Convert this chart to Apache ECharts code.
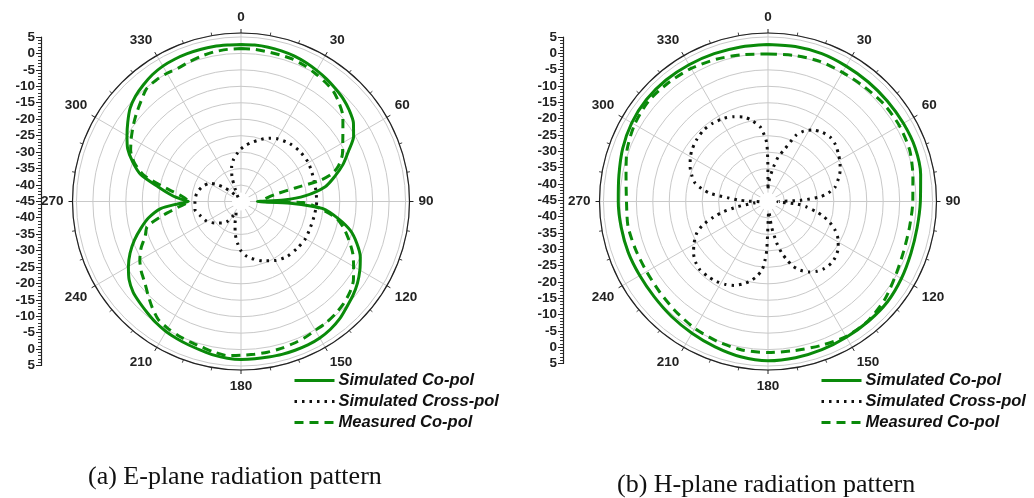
<!DOCTYPE html>
<html>
<head>
<meta charset="utf-8">
<script src="https://cdn.jsdelivr.net/npm/echarts@6/dist/echarts.min.js"></script>
<style>
html,body{margin:0;padding:0;background:#fff;}
#chart{width:1034px;height:498px;}
</style>
</head>
<body>
<div id="chart"></div>
<script>
// ---------- tick labels ----------
const angleTickLabels = ['0','30','60','90','120','150','180','210','240','270','300','330'];
const dbTickLabels = ['5','0','-5','-10','-15','-20','-25','-30','-35','-40','-45','-40','-35','-30','-25','-20','-15','-10','-5','0','5'];
const seriesNames = ['Simulated Co-pol','Simulated Cross-pol','Measured Co-pol'];
const captions = ['(a) E-plane radiation pattern','(b) H-plane radiation pattern'];

// ---------- E-plane ----------
const eSimCoAng = [0,5,10,15,20,25,30,35,40,45,50,55,60,65,70,75,80,85,88,90,92,95,100,105,110,115,120,125,130,135,140,145,150,155,160,165,170,175,180,185,190,195,200,205,210,215,220,225,230,235,240,245,250,255,260,265,268,270,272,275,280,285,290,295,300,305,310,315,320,325,330,335,340,345,350,355,360];
const eSimCo    = [2.7,2.7,2.6,2.4,2.1,1.6,1.0,0.4,-0.3,-1.0,-2.0,-3.3,-5.5,-9,-12,-15.5,-19,-25.5,-32,-40,-30,-20,-15,-10.5,-7.5,-5,-3.3,-1.8,-0.6,0.4,1.6,2.4,2.9,3.1,3.1,3.1,3.0,3.0,3.0,2.8,2.4,1.8,1.4,1.0,0.6,0,-0.8,-1.5,-2.2,-3.5,-5.5,-7.8,-10.5,-13.5,-16.5,-20.5,-26,-29,-27,-24,-19.5,-13.5,-10,-7,-5,-3,-1,0.3,1.2,2.0,2.5,2.7,2.8,2.8,2.8,2.7,2.7];

const eMeasCoAng = [0,5,10,15,20,25,30,35,40,45,50,55,60,65,70,73,75,76,78,82,86,90,91,95,100,105,110,115,120,125,130,135,140,145,150,155,160,165,170,175,180,185,190,195,200,205,210,215,220,225,230,235,240,245,250,255,260,265,270,275,280,285,290,295,300,305,310,315,320,325,330,335,340,345,350,355,360];
const eMeasCo    = [1.5,1.4,1.2,1.1,1.0,0.6,0,-0.6,-1.3,-2.8,-4.6,-7.2,-9.3,-11,-13.5,-16,-20,-28,-34,-37,-38,-38,-26,-21,-15.5,-12.5,-10,-7.5,-5.5,-3.3,-1.9,-1.0,-0.4,0,0.2,0.7,1.0,1.3,1.5,1.6,1.7,2.0,1.5,0.8,0.4,0,-0.5,-1.2,-3.0,-5,-6.8,-8,-9.5,-11.5,-14,-15.5,-21,-26,-29,-27,-22,-14.5,-10.5,-8,-6.5,-5,-3.5,-2,-0.3,0,0,-0.2,0.3,0.8,1.2,1.4,1.5];

const eSimXAng = [0,5,10,15,20,25,30,40,50,60,70,80,90,100,110,120,130,140,150,160,170,175,180,185,190,195,200,205,210,215,220,230,240,250,260,270,280,290,300,305,310,315,320,325,330,335,340,345,350,355,360];
const eSimX    = [-29,-27.8,-26.8,-25.8,-24.7,-23.8,-23,-22,-21.5,-21.4,-21.8,-22,-22,-22.3,-22.5,-22.4,-22.8,-23.2,-24.3,-25.8,-27.5,-28.5,-30,-32.4,-35,-38,-40.5,-41.5,-39.5,-37.5,-36.5,-34.8,-33,-32,-30.8,-31,-31.3,-32.3,-34,-36,-38.5,-41,-43,-43.5,-42.5,-40.8,-37,-34,-32,-30.5,-29];

// ---------- H-plane ----------
const hAng = [0,10,20,30,40,50,60,70,80,90,100,110,120,130,140,150,160,170,180,190,200,210,220,230,240,250,260,270,280,290,300,310,320,330,340,350,360];
const hSimCo  = [2.7,2.8,2.8,2.5,2.4,2.4,2.5,2.6,2.1,1.3,1.0,1.2,1.8,2.4,2.5,2.6,2.9,3.2,3.4,2.9,2.0,1.2,0.6,0.1,0,0.2,0.3,0.5,1.0,2.0,2.8,3.2,3.2,3.0,2.8,2.7,2.7];
const hMeasCo = [-0.2,0.1,0.4,0.3,0.5,1.0,1.1,0.8,-0.3,-1.0,-1.3,-1.1,-0.2,1.3,2.3,2.4,1.6,1.0,0.9,0.8,0.2,-0.5,-1.4,-2.1,-2.4,-2.2,-1.8,-2.0,-1.2,0.6,1.8,2.4,2.1,1.7,1.0,0.3,-0.2];

const hSimXAng = [0,4,9,13,17,23,27,32,38,44,50,56,62,67,72,78,82,85,88,91,95,98,102,105,109,113,119,125,130,134,140,145,150,155,159,162,165,168,172,176,179,181.5,183,185,189,193,197,202,207,213,219,225,230,235,240,246,250,254,257,260,264,268,271,273,275,278,281,284,289,294,299,304,311,318,325,332,338,344,349,354,356,358,359,359.7,360];
const hSimX    = [-41,-38,-34.4,-31,-28.8,-23.1,-21,-19.4,-18.3,-17.8,-18.2,-19.2,-20.2,-21.2,-22.5,-24.2,-26.5,-29.2,-35.3,-42,-36,-33.2,-30,-27.6,-25,-22.9,-20.6,-19.1,-18.4,-18.1,-18.4,-19.1,-20.3,-22,-24,-26.3,-28.8,-32,-37.2,-42,-40,-30.2,-27,-24.1,-21.8,-20.1,-18.8,-17.5,-16.7,-16.1,-15.8,-15.7,-16.3,-17.4,-19,-21.3,-23.8,-27.8,-31,-35.4,-40.5,-42.5,-39,-36,-33.2,-27.3,-24.5,-22.2,-20.5,-19.1,-18,-17.1,-16.3,-15.8,-15.9,-16.4,-17.2,-18.3,-20,-22.2,-24,-26,-28,-33,-41];

// ---------- helpers ----------
function pairs(ang, val){ return ang.map((a,i)=>[val[i], a]); }

const GREEN = '#0a8a0a';
const R_MIN = -45, R_MAX = 6.2;
const centers = [[241,201.5],[768,201.5]];
const outerR = 168.5;

const polar = centers.map(c => ({center: c, radius: [0, outerR]}));

const angleAxis = [0,1].map(i => ({
  polarIndex: i, type: 'value', min: 0, max: 360, interval: 30,
  startAngle: 90, clockwise: true,
  axisLine: {lineStyle: {color: '#222', width: 1.2}},
  axisTick: {show: true, length: 4, lineStyle: {color: '#222'}},
  minorTick: {show: true, splitNumber: 3, length: 3, lineStyle: {color: '#444'}},
  axisLabel: {
    margin: 9, color: '#222', fontSize: 13.5, fontWeight: 'bold', fontFamily: 'Liberation Sans',
    formatter: v => (v >= 360 ? '' : angleTickLabels[Math.round(v/30)])
  },
  splitLine: {show: true, lineStyle: {color: '#c9c9c9', width: 1}}
}));

const radiusAxis = [0,1].map(i => ({
  polarIndex: i, type: 'value', min: R_MIN, max: R_MAX, interval: 5,
  axisLine: {show: false}, axisTick: {show: false}, axisLabel: {show: false},
  splitLine: {show: true, lineStyle: {color: '#c9c9c9', width: 1}}
}));

const grid = [
  {left: 41, top: 37, width: 1, height: 328.5},
  {left: 563, top: 37, width: 1, height: 326.5}
];
const xAxis = [0,1].map(i => ({gridIndex: i, type: 'value', show: false, min: 0, max: 1}));
const yAxis = [0,1].map(i => ({
  gridIndex: i, type: 'value', min: -50, max: 50, interval: 5, position: 'left',
  axisLine: {show: true, onZero: false, lineStyle: {color: '#222', width: 1.2}},
  axisTick: {show: true, length: 5, lineStyle: {color: '#222'}},
  minorTick: {show: true, splitNumber: 5, length: 3, lineStyle: {color: '#333'}},
  splitLine: {show: false},
  axisLabel: {
    margin: 6, color: '#222', fontSize: 13.5, fontWeight: 'bold', fontFamily: 'Liberation Sans',
    formatter: v => dbTickLabels[Math.round((50 - v)/5)]
  }
}));

function mkSeries(name, polarIndex, data, kind){
  const s = {
    name, type: 'line', coordinateSystem: 'polar', polarIndex,
    data, showSymbol: false, symbol: 'none', smooth: 0.25, z: 3,
    lineStyle: {}
  };
  if (kind === 'solid') { s.lineStyle = {color: GREEN, width: 3, type: 'solid'}; s.itemStyle = {color: GREEN}; }
  if (kind === 'dash')  { s.lineStyle = {color: GREEN, width: 3, type: [9,6]}; s.itemStyle = {color: GREEN}; }
  if (kind === 'dot')   { s.lineStyle = {color: '#111', width: 3, type: [2.5,5]}; s.itemStyle = {color: '#111'}; }
  return s;
}

const series = [
  mkSeries(seriesNames[0], 0, pairs(eSimCoAng, eSimCo), 'solid'),
  mkSeries(seriesNames[1], 0, pairs(eSimXAng, eSimX), 'dot'),
  mkSeries(seriesNames[2], 0, pairs(eMeasCoAng, eMeasCo), 'dash'),
  mkSeries(seriesNames[0], 1, pairs(hAng, hSimCo), 'solid'),
  mkSeries(seriesNames[1], 1, pairs(hSimXAng, hSimX), 'dot'),
  mkSeries(seriesNames[2], 1, pairs(hAng, hMeasCo), 'dash')
];

const legendText = {fontFamily: 'Liberation Sans', fontSize: 16.5, fontWeight: 'bold', fontStyle: 'italic', color: '#111', padding: [0,0,0,-1]};
const legend = [293, 820].map(x => ({
  data: seriesNames, orient: 'vertical', left: x, top: 372,
  itemWidth: 40, itemHeight: 14, itemGap: 4, padding: 0,
  itemStyle: {opacity: 0},
  lineStyle: {width: 3},
  selectedMode: false, textStyle: legendText
}));

const title = [
  {text: captions[0], left: 88, top: 464},
  {text: captions[1], left: 617, top: 472}
].map(t => Object.assign(t, {padding: 0, textStyle: {fontFamily: 'Liberation Serif', fontWeight: 'normal', fontSize: 26, color: '#111'}}));

const graphic = centers.map(c => ({
  type: 'circle', shape: {cx: c[0], cy: c[1], r: 9}, style: {fill: '#fff'}, z: 1, silent: true
}));

const chart = echarts.init(document.getElementById('chart'), null, {renderer: 'canvas'});
chart.setOption({
  backgroundColor: '#fff',
  animation: false,
  title, legend, polar, angleAxis, radiusAxis, grid, xAxis, yAxis, series, graphic
});
</script>
</body>
</html>
